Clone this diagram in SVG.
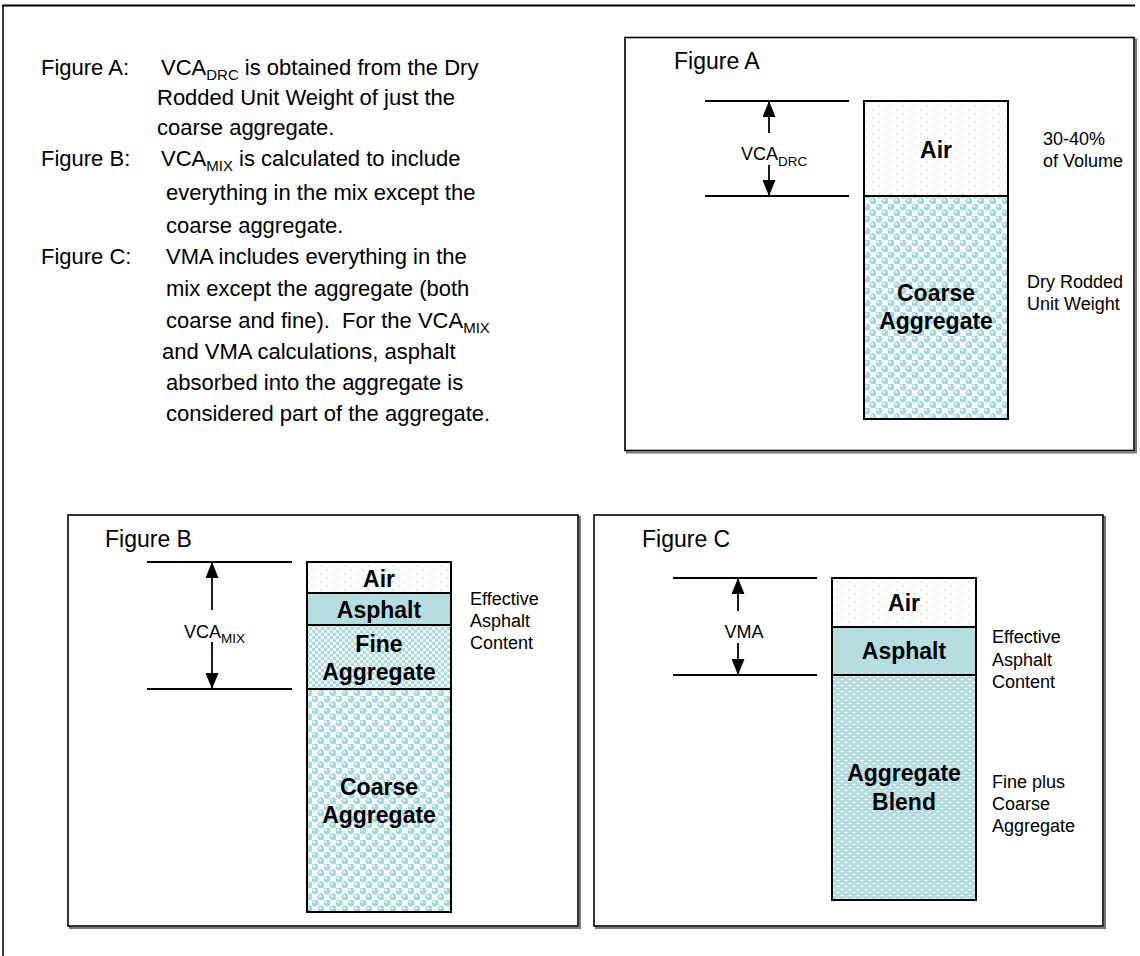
<svg xmlns="http://www.w3.org/2000/svg" width="1140" height="956" viewBox="0 0 1140 956">
<style>
.t{font-family:"Liberation Sans",Arial,sans-serif;fill:#000;white-space:pre}
.body{font-size:22px}
.fig{font-size:23px}
.b{font-size:23px;font-weight:bold;text-anchor:middle}
.s{font-size:18px}
.dim{stroke:#000;stroke-width:1.8;fill:none}
.seg{stroke:#000;stroke-width:2}
.box{fill:#fff;stroke:#000;stroke-width:1.6}
.shadow{fill:none;stroke:#777;stroke-width:2}
</style>
<defs>
<pattern id="pAir" width="12" height="8" patternUnits="userSpaceOnUse">
<rect width="12" height="8" fill="#fff"/>
<circle cx="3" cy="2" r="0.8" fill="#a9d6da"/>
<circle cx="9" cy="6" r="0.8" fill="#a9d6da"/>
</pattern>
<pattern id="pCoarse" width="12" height="12" patternUnits="userSpaceOnUse">
<rect width="12" height="12" fill="#f4fbfb"/>
<circle cx="3" cy="3" r="3.4" fill="#a6d7dc"/>
<circle cx="9" cy="9" r="3.4" fill="#a6d7dc"/>
<circle cx="2" cy="2" r="1.1" fill="#fff"/>
<circle cx="8" cy="8" r="1.1" fill="#fff"/>
</pattern>
<pattern id="pFine" width="6" height="6" patternUnits="userSpaceOnUse">
<rect width="6" height="6" fill="#eef8f8"/>
<rect width="3" height="3" fill="#afdbdf"/>
<rect x="3" y="3" width="3" height="3" fill="#afdbdf"/>
</pattern>
<pattern id="pBlend" width="8" height="6" patternUnits="userSpaceOnUse">
<rect width="8" height="6" fill="#b3dce0"/>
<ellipse cx="2" cy="1.5" rx="1.8" ry="0.8" fill="#fff"/>
<ellipse cx="6" cy="4.5" rx="1.8" ry="0.8" fill="#fff"/>
</pattern>
<marker id="ah" viewBox="0 0 16 13" refX="16" refY="6.5" markerWidth="16" markerHeight="13" markerUnits="userSpaceOnUse" orient="auto">
<path d="M0,0 L16,6.5 L0,13 Z" fill="#000"/>
</marker>
</defs>

<g id="frame">
<line x1="2" y1="5.5" x2="1135" y2="5.5" stroke="#000" stroke-width="2"/>
<line x1="3" y1="5" x2="3" y2="956" stroke="#000" stroke-width="1.5"/>
</g>

<g id="description">
<text class="t body" x="41" y="75">Figure A:</text>
<text class="t body" x="161" y="75">VCA<tspan font-size="15" dy="5">DRC</tspan><tspan dy="-5"> is obtained from the Dry</tspan></text>
<text class="t body" x="157" y="105">Rodded Unit Weight of just the</text>
<text class="t body" x="157" y="135">coarse aggregate.</text>
<text class="t body" x="41" y="166">Figure B:</text>
<text class="t body" x="161" y="166">VCA<tspan font-size="15" dy="5">MIX</tspan><tspan dy="-5"> is calculated to include</tspan></text>
<text class="t body" x="166" y="200">everything in the mix except the</text>
<text class="t body" x="166" y="233">coarse aggregate.</text>
<text class="t body" x="41" y="264">Figure C:</text>
<text class="t body" x="166" y="264">VMA includes everything in the</text>
<text class="t body" x="166" y="296">mix except the aggregate (both</text>
<text class="t body" x="166" y="328">coarse and fine).  For the VCA<tspan font-size="15" dy="5">MIX</tspan></text>
<text class="t body" x="162" y="359">and VMA calculations, asphalt</text>
<text class="t body" x="166" y="390">absorbed into the aggregate is</text>
<text class="t body" x="166" y="421">considered part of the aggregate.</text>
</g>

<g id="figureA">
<rect class="shadow" x="627" y="39.5" width="509" height="413"/>
<rect class="box" x="625" y="37.5" width="509" height="413"/>
<text class="t fig" x="674" y="69">Figure A</text>
<rect x="864" y="101" width="144" height="95" fill="url(#pAir)" class="seg"/>
<rect x="864" y="196" width="144" height="223" fill="url(#pCoarse)" class="seg"/>
<text class="t b" x="936" y="158">Air</text>
<text class="t b" x="936" y="301">Coarse</text>
<text class="t b" x="936" y="329">Aggregate</text>
<text class="t s" x="1043" y="145">30-40%</text>
<text class="t s" x="1043" y="167">of Volume</text>
<text class="t s" x="1027" y="288">Dry Rodded</text>
<text class="t s" x="1027" y="310">Unit Weight</text>
<text class="t" font-size="18" x="741" y="160">VCA<tspan font-size="13.5" dy="6">DRC</tspan></text>
</g>

<g id="figureB">
<rect class="shadow" x="70" y="517" width="510" height="411"/>
<rect class="box" x="68" y="515" width="510" height="411"/>
<text class="t fig" x="105" y="547">Figure B</text>
<rect x="307" y="562" width="144" height="31" fill="url(#pAir)" class="seg"/>
<rect x="307" y="593" width="144" height="32" fill="#b6dee1" class="seg"/>
<rect x="307" y="625" width="144" height="64" fill="url(#pFine)" class="seg"/>
<rect x="307" y="689" width="144" height="223" fill="url(#pCoarse)" class="seg"/>
<text class="t b" x="379" y="587">Air</text>
<text class="t b" x="379" y="618">Asphalt</text>
<text class="t b" x="379" y="652">Fine</text>
<text class="t b" x="379" y="680">Aggregate</text>
<text class="t b" x="379" y="795">Coarse</text>
<text class="t b" x="379" y="823">Aggregate</text>
<text class="t s" x="470" y="605">Effective</text>
<text class="t s" x="470" y="627">Asphalt</text>
<text class="t s" x="470" y="649">Content</text>
<text class="t" font-size="18" x="184" y="638">VCA<tspan font-size="13.5" dy="5">MIX</tspan></text>
</g>

<g id="figureC">
<rect class="shadow" x="596" y="517" width="509" height="411"/>
<rect class="box" x="594" y="515" width="509" height="411"/>
<text class="t fig" x="642" y="547">Figure C</text>
<rect x="832" y="578" width="144" height="49" fill="url(#pAir)" class="seg"/>
<rect x="832" y="627" width="144" height="48" fill="#b6dee1" class="seg"/>
<rect x="832" y="675" width="144" height="225" fill="url(#pBlend)" class="seg"/>
<text class="t b" x="904" y="611">Air</text>
<text class="t b" x="904" y="659">Asphalt</text>
<text class="t b" x="904" y="781">Aggregate</text>
<text class="t b" x="904" y="810">Blend</text>
<text class="t s" x="992" y="643">Effective</text>
<text class="t s" x="992" y="666">Asphalt</text>
<text class="t s" x="992" y="688">Content</text>
<text class="t s" x="992" y="788">Fine plus</text>
<text class="t s" x="992" y="810">Coarse</text>
<text class="t s" x="992" y="832">Aggregate</text>
<text class="t" font-size="18" x="724.5" y="638">VMA</text>
</g>

<g id="connectors">
<line class="dim" x1="705" y1="101" x2="849" y2="101"/>
<line class="dim" x1="705" y1="196" x2="849" y2="196"/>
<line class="dim" x1="769" y1="133" x2="769" y2="101" marker-end="url(#ah)"/>
<line class="dim" x1="769" y1="165" x2="769" y2="196" marker-end="url(#ah)"/>
<line class="dim" x1="147" y1="562" x2="292" y2="562"/>
<line class="dim" x1="147" y1="689" x2="292" y2="689"/>
<line class="dim" x1="212" y1="610" x2="212" y2="562" marker-end="url(#ah)"/>
<line class="dim" x1="212" y1="642" x2="212" y2="689" marker-end="url(#ah)"/>
<line class="dim" x1="673" y1="578" x2="817" y2="578"/>
<line class="dim" x1="673" y1="675" x2="817" y2="675"/>
<line class="dim" x1="738" y1="611" x2="738" y2="578" marker-end="url(#ah)"/>
<line class="dim" x1="738" y1="643" x2="738" y2="675" marker-end="url(#ah)"/>
</g>
</svg>
